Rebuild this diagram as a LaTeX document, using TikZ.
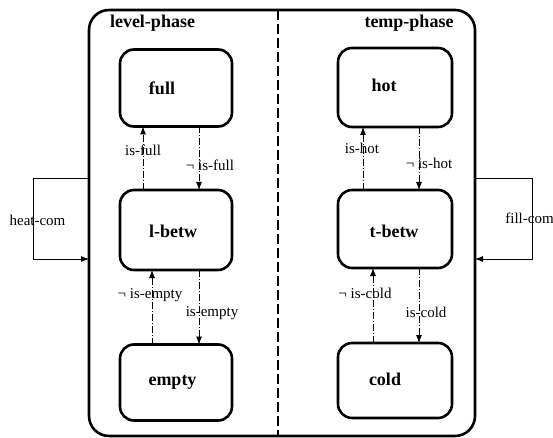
\documentclass[tikz,border=0pt]{standalone}
\usepackage{fontspec}
\setmainfont{Liberation Serif}
\usetikzlibrary{arrows.meta}
\begin{document}
\begin{tikzpicture}[x=1pt,y=-1pt,
  statebox/.style={draw, rounded corners=14pt, line width=2.6pt, inner sep=0pt, outer sep=0pt},
  statetext/.style={font=\fontsize{18}{20}\selectfont\bfseries, inner sep=0pt},
  titletext/.style={font=\fontsize{18}{20}\selectfont\bfseries, inner sep=0pt},
  lbl/.style={font=\fontsize{15}{17}\selectfont, inner sep=0pt},
  trans/.style={line width=0.8pt, dash pattern=on 7pt off 2pt on 1pt off 2pt, -{Latex[length=8pt,width=6pt]}},
  comm/.style={line width=0.8pt, -{Latex[length=8pt,width=6pt]}},
  divider/.style={line width=2.6pt, dash pattern=on 10pt off 4pt}
]
\useasboundingbox (0,0) rectangle (553,438);
% outer box
\node[draw, rounded corners=20pt, line width=2.6pt, inner sep=0pt, outer sep=0pt,
      minimum width=386pt, minimum height=426pt] (outer) at (282,223) {};
\coordinate (dtop) at (278,10);
\coordinate (dbot) at (278,436);
\draw[divider] (dtop) -- (dbot);
\node[titletext] (t1) at (152.5,23) {level-phase};
\node[titletext] (t2) at (409,23) {temp-phase};
% states left
\node[statebox, minimum width=112pt, minimum height=77pt] (full) at (176,88) {};
\node[statebox, minimum width=112pt, minimum height=80pt] (lbetw) at (176,230) {};
\node[statebox, minimum width=112pt, minimum height=76pt] (empty) at (176,382.5) {};
\node[statetext] (fullt) at (162,88) {full};
\node[statetext] (lbetwt) at (173,231) {l-betw};
\node[statetext] (emptyt) at (172.5,382) {empty};
% states right
\node[statebox, minimum width=114pt, minimum height=79pt] (hot) at (395,87.5) {};
\node[statebox, minimum width=114pt, minimum height=78pt] (tbetw) at (395,229) {};
\node[statebox, minimum width=114pt, minimum height=75pt] (cold) at (395,380.5) {};
\node[statetext] (hott) at (384,85) {hot};
\node[statetext] (tbetwt) at (394,231) {t-betw};
\node[statetext] (coldt) at (385,379) {cold};
% transitions left
\draw[trans] ([xshift=-33pt]lbetw.north) -- ([xshift=-33pt]full.south);
\draw[trans] ([xshift=23pt]full.south) -- ([xshift=23pt]lbetw.north);
\draw[trans] ([xshift=-24pt]empty.north) -- ([xshift=-24pt]lbetw.south);
\draw[trans] ([xshift=23pt]lbetw.south) -- ([xshift=23pt]empty.north);
\node[lbl] (l1) at (143,150) {is-full};
\node[lbl] (l2) at (210,165) {¬ is-full};
\node[lbl] (l3) at (150,295) {¬ is-empty};
\node[lbl] (l4) at (212,313) {is-empty};
% transitions right
\draw[trans] ([xshift=-32pt]tbetw.north) -- ([xshift=-32pt]hot.south);
\draw[trans] ([xshift=24pt]hot.south) -- ([xshift=24pt]tbetw.north);
\draw[trans] ([xshift=-22pt]cold.north) -- ([xshift=-22pt]tbetw.south);
\draw[trans] ([xshift=24pt]tbetw.south) -- ([xshift=24pt]cold.north);
\node[lbl] (r1) at (362,148) {is-hot};
\node[lbl] (r2) at (429,163) {¬ is-hot};
\node[lbl] (r3) at (365,293) {¬ is-cold};
\node[lbl] (r4) at (426,312) {is-cold};
% heat-com
\coordinate (hc1) at (33,178);
\coordinate (hc2) at (33,259);
\draw[comm] (outer.west |- hc1) -- (hc1) -- (hc2) -- (outer.west |- hc2);
\node[lbl] (hcl) at (37.5,220) {heat-com};
% fill-com
\coordinate (fc1) at (532,178);
\coordinate (fc2) at (532,259);
\draw[comm] (outer.east |- fc1) -- (fc1) -- (fc2) -- (outer.east |- fc2);
\node[lbl] (fcl) at (529.5,218) {fill-com};
\end{tikzpicture}
\end{document}
